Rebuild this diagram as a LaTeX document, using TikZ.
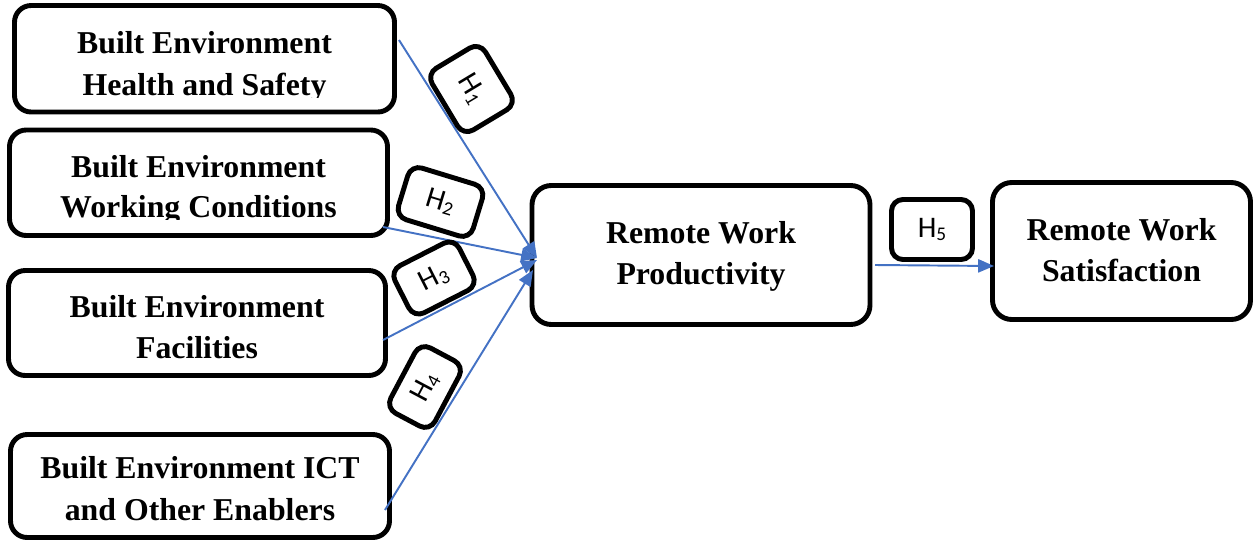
\documentclass[tikz,border=0pt]{standalone}
\usepackage{fontspec}
\setmainfont{Liberation Serif}
\newfontfamily\hfont{Carlito}
\usetikzlibrary{calc,arrows.meta}
\newdimen\upx \upx=0.02cm
\newcommand\hlab[1]{\raisebox{-1.5pt}{H\raisebox{-1.8pt}{\fontsize{11}{12}\selectfont #1}}}
\definecolor{arrblue}{HTML}{4472C4}
\tikzset{
  box/.style={draw=black, line width=2.8pt, rounded corners=9.5pt, fill=white, inner sep=0pt, outer sep=0pt},
  bigbox/.style={box, rounded corners=11pt},
  hbox/.style={draw=black, line width=2.8pt, rounded corners=6.5pt, fill=white, inner sep=0pt, outer sep=0pt,
    font=\hfont\fontsize{17}{19}\selectfont},
  lbl/.style={inner sep=0pt, outer sep=0pt, anchor=base, font=\bfseries\fontsize{18.1}{22}\selectfont},
  arr/.style={draw=arrblue, line width=1.1pt, -{Triangle[length=9pt,width=7.5pt]}}
}
\begin{document}
\begin{tikzpicture}[x=0.02cm,y=-0.02cm]
\useasboundingbox (0,0) rectangle (1255,542);
% boxes
\node[box, minimum width=380\upx, minimum height=106.5\upx] (b1) at (204.5,58.75) {};
\node[box, minimum width=378\upx, minimum height=105.5\upx] (b2) at (198.5,182.75) {};
\node[box, minimum width=377\upx, minimum height=105\upx] (b3) at (197,323) {};
\node[box, minimum width=379\upx, minimum height=103\upx] (b4) at (200,486) {};
\node[bigbox, minimum width=338\upx, minimum height=139\upx] (p) at (701,255) {};
\node[bigbox, minimum width=258\upx, minimum height=137\upx] (s) at (1121.5,251) {};
% texts
\node[lbl] (t1a) at (204.5,53.5) {Built Environment};
\begin{scope}
\clip (0,0) rectangle (400,97.5);
\node[lbl] (t1b) at (204.5,95) {Health and Safety};
\end{scope}
\node[lbl] (t2a) at (198.5,177) {Built Environment};
\begin{scope}
\clip (0,130) rectangle (400,219);
\node[lbl] (t2b) at (198.5,217) {Working Conditions};
\end{scope}
\node[lbl] (t3a) at (197,317) {Built Environment};
\node[lbl] (t3b) at (197,358) {Facilities};
\node[lbl] (t4a) at (200,478) {Built Environment ICT};
\node[lbl] (t4b) at (200,520) {and Other Enablers};
\node[lbl] (t5a) at (701,243) {Remote Work};
\node[lbl] (t5b) at (701,284.5) {Productivity};
\node[lbl] (t6a) at (1121.5,240) {Remote Work};
\node[lbl] (t6b) at (1121.5,281.5) {Satisfaction};
% connectors
\draw[arr] ($(b1.east)+(4.5,-18.75)$) -- ($(p.west)+(5,3)$);
\draw[arr] ($(b2.east)+(-4.5,44.25)$) -- ($(p.west)+(5,3)$);
\draw[arr] ($(b3.east)+(-2.5,17)$) -- ($(p.west)+(5,5)$);
\draw[arr] ($(b4.east)+(-4.5,24)$) -- ($(p.west)+(1,15)$);
\draw[arr] ($(p.east)+(5,10)$) -- ($(s.west)+(1.5,15)$);
% hypothesis labels
\node[hbox, rotate=-59, minimum width=72\upx, minimum height=62\upx] (h1) at (471.5,89) {\hlab{1}};
\node[hbox, rotate=-17, minimum width=78\upx, minimum height=54\upx] (h2) at (440.5,202) {\hlab{2}};
\node[hbox, rotate=27, minimum width=72\upx, minimum height=53\upx] (h3) at (434,278) {\hlab{3}};
\node[hbox, rotate=62, minimum width=74\upx, minimum height=50\upx] (h4) at (425,387) {\hlab{4}};
\node[hbox, minimum width=81\upx, minimum height=60\upx] (h5) at (932,229.5) {\hlab{5}};
\end{tikzpicture}
\end{document}
